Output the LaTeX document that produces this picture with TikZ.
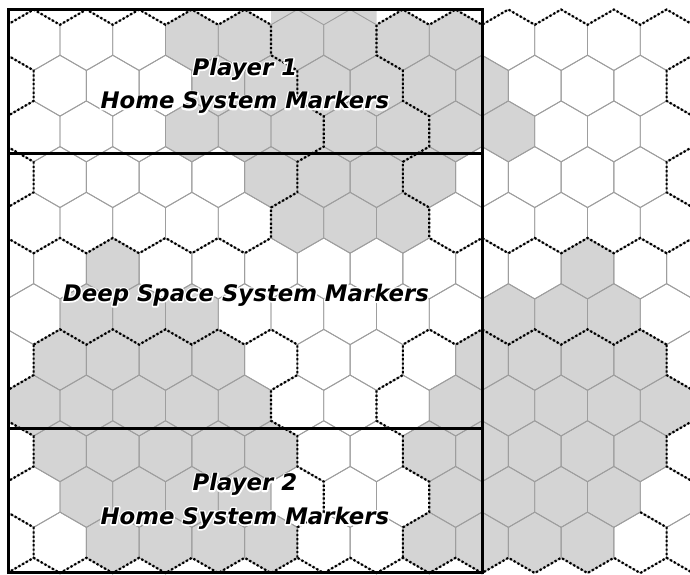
\documentclass[tikz,border=0pt]{standalone}
\usepackage{fontspec}
\newfontfamily\markfont{DejaVu Sans Bold Oblique}
% white outline behind the label text
\newcommand{\halo}[1]{\leavevmode\rlap{\special{pdf:literal direct 1 G 3 w 1 j 1 Tr}#1\special{pdf:literal direct 0 Tr}}#1}

\begin{document}
\begin{tikzpicture}[
  x=26.375pt, y=-15.23pt,
  hexline/.style={draw=black!38, line width=0.9pt},
  hexfill/.style={fill=black!17},
  border/.style={black, line width=2.2pt, dash pattern=on 2.2pt off 2.1pt},
  frame/.style={black, line width=3pt},
  label/.style={font=\markfont\fontsize{22.8}{33.5}\selectfont, align=center, inner sep=0pt}
]
\useasboundingbox (-0.2749,-0.6264) rectangle (25.886,37.063);

\begin{scope}
\clip (0,-0.3) rectangle (25.886,37.063);
% shaded hexes, row / hex centres
\foreach \r/\cols in {0/{7,9,...,17}, 1/{8,10,...,18}, 2/{7,9,...,19}, 3/{10,12,...,16},
    4/{11,13,15}, 5/{4,22}, 6/{3,5,7,19,21,23}, 7/{2,4,6,8,18,20,22,24},
    8/{1,3,5,7,9,17,19,21,23,25}, 9/{2,4,6,8,10,16,18,20,22,24},
    10/{3,5,7,9,17,19,21,23}, 11/{4,6,8,10,16,18,20,22}}
  \foreach \ic in \cols
    \fill[hexfill, shift={(\ic,3*\r)}] (0,0) -- (1,1) -- (1,3) -- (0,4) -- (-1,3) -- (-1,1) -- cycle;
\fill[hexfill] (10,0) -- (14,0) -- (14,1) -- (13,0) -- (12,1) -- (11,0) -- (10,1) -- cycle;

% hex grid
\foreach \r in {0,...,11}
  \foreach \ic in {0,...,26} {
    \pgfmathtruncatemacro\odd{mod(\ic+\r,2)}
    \ifnum\odd=1
      \draw[hexline, shift={(\ic,3*\r)}] (0,0) -- (1,1) -- (1,3) -- (0,4) -- (-1,3) -- (-1,1) -- cycle;
    \fi
  }

% region borders
\draw[border] (0,1) -- (1,0) -- (2,1) -- (3,0) -- (4,1) -- (5,0) -- (6,1) -- (7,0) -- (8,1) -- (9,0)
  -- (10,1) -- (10,3) -- (11,4) -- (11,6) -- (12,7) -- (12,9) -- (11,10) -- (11,12) -- (10,13) -- (10,15)
  -- (9,16) -- (8,15) -- (7,16) -- (6,15) -- (5,16) -- (4,15) -- (3,16) -- (2,15) -- (1,16) -- (0,15);
\draw[border] (26,1) -- (25,0) -- (24,1) -- (23,0) -- (22,1) -- (21,0) -- (20,1) -- (19,0) -- (18,1)
  -- (17,0) -- (16,1) -- (15,0) -- (14,1) -- (14,3) -- (15,4) -- (15,6) -- (16,7) -- (16,9) -- (15,10)
  -- (15,12) -- (16,13) -- (16,15) -- (17,16) -- (18,15) -- (19,16) -- (20,15) -- (21,16) -- (22,15)
  -- (23,16) -- (24,15) -- (25,16) -- (26,15);
\draw[border] (1,22) -- (2,21) -- (3,22) -- (4,21) -- (5,22) -- (6,21) -- (7,22) -- (8,21) -- (9,22)
  -- (10,21) -- (11,22) -- (11,24) -- (10,25) -- (10,27) -- (11,28) -- (11,30) -- (12,31) -- (12,33)
  -- (11,34) -- (11,36);
\draw[border] (25,22) -- (24,21) -- (23,22) -- (22,21) -- (21,22) -- (20,21) -- (19,22) -- (18,21)
  -- (17,22) -- (16,21) -- (15,22) -- (15,24) -- (14,25) -- (14,27) -- (15,28) -- (15,30) -- (16,31)
  -- (16,33) -- (15,34) -- (15,36);
\draw[border] (0,37) \foreach \i in {1,...,26} { -- (\i,{37-mod(\i,2)}) };
% half hexes on the map edges
\draw[border] (0,3) -- (1,4) -- (1,6) -- (0,7);
\draw[border] (0,9) -- (1,10) -- (1,12) -- (0,13);
\draw[border] (1,22) -- (1,24) -- (0,25);
\draw[border] (0,27) -- (1,28) -- (1,30) -- (0,31);
\draw[border] (0,33) -- (1,34) -- (1,36);
\draw[border] (26,3) -- (25,4) -- (25,6) -- (26,7);
\draw[border] (26,9) -- (25,10) -- (25,12) -- (26,13);
\draw[border] (25,22) -- (25,24) -- (26,25);
\draw[border] (26,27) -- (25,28) -- (25,30) -- (26,31);
\draw[border] (24,33) -- (25,34) -- (25,36);
\end{scope}

% marker frame
\draw[frame] (0.03,-0.03) rectangle (18.02,36.95);
\draw[frame] (0.03,9.45) -- (18.02,9.45);
\draw[frame] (0.03,27.5) -- (18.02,27.5);

\node[label] (home1) at (9.01,5.02) {\halo{Player 1}\\\halo{Home System Markers}};
\node[label] (deep) at (9.05,18.75) {\halo{Deep Space System Markers}};
\node[label] (home2) at (9.01,32.29) {\halo{Player 2}\\\halo{Home System Markers}};
\end{tikzpicture}
\end{document}
